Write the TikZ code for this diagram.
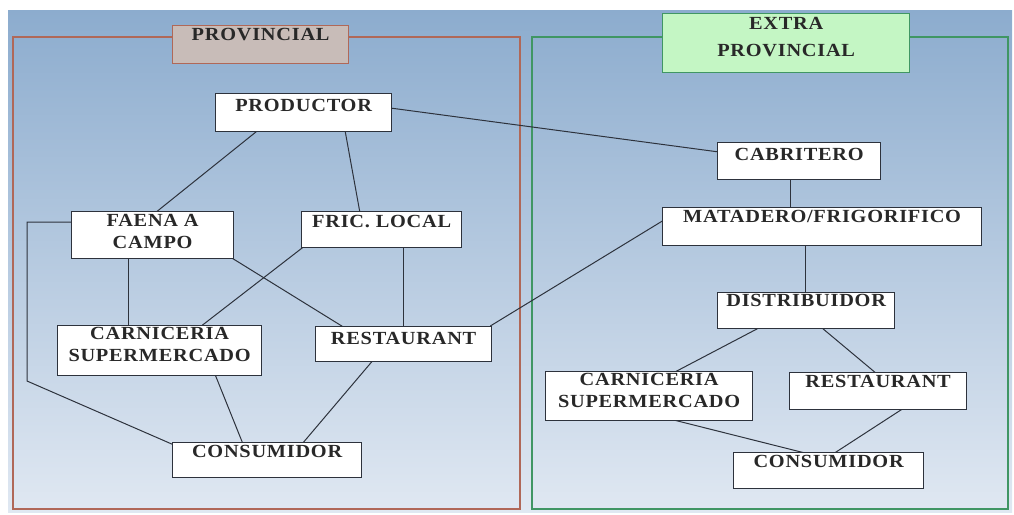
\documentclass[tikz,border=0pt]{standalone}
\usepackage{fontspec}
\setmainfont{Liberation Serif}[LetterSpace=4,FakeStretch=1.1]
\usetikzlibrary{calc}
\definecolor{bgtop}{RGB}{140,172,206}
\definecolor{bgbot}{RGB}{224,232,242}
\definecolor{provc}{RGB}{176,104,88}
\definecolor{provfill}{RGB}{200,188,184}
\definecolor{extc}{RGB}{64,150,100}
\definecolor{extfill}{RGB}{196,246,196}
\definecolor{txt}{RGB}{40,40,40}
\definecolor{edgec}{RGB}{45,50,60}
\pgfdeclarelayer{back}
\pgfdeclarelayer{mid}
\pgfsetlayers{back,mid,main}
\newcommand\bt[4]{\parbox[t][#1][t]{#2}{\vspace*{#3}\centering #4\par}}
\tikzset{
  nb/.style={draw=edgec, line width=1.3pt, fill=white, inner sep=0pt, anchor=north west,
    font=\fontsize{18.5}{21.5}\selectfont\bfseries, text=txt},
  provlab/.style={nb, draw=provc, fill=provfill},
  extlab/.style={nb, draw=extc, fill=extfill},
  link/.style={draw=edgec, line width=1pt}
}
\begin{document}
\begin{tikzpicture}[x=1pt,y=-1pt]
\useasboundingbox (0,0) rectangle (1014,514);
% nodes
\node[nb] (prod)  at (215,93)  {\bt{38pt}{176pt}{6pt}{PRODUCTOR}};
\node[nb] (faena) at (71,211)  {\bt{47pt}{162pt}{3pt}{FAENA A\\CAMPO}};
\node[nb] (fric)  at (301,211) {\bt{36pt}{160pt}{4pt}{FRIC. LOCAL}};
\node[nb] (carnL) at (57,325)  {\bt{50pt}{204pt}{2pt}{CARNICERIA\\SUPERMERCADO}};
\node[nb] (restL) at (315,326) {\bt{35pt}{176pt}{6pt}{RESTAURANT}};
\node[nb] (consL) at (172,442) {\bt{35pt}{189pt}{3pt}{CONSUMIDOR}};
\node[nb] (cabr)  at (717,142) {\bt{37pt}{163pt}{6pt}{CABRITERO}};
\node[nb] (mata)  at (662,207) {\bt{38pt}{319pt}{3pt}{MATADERO/FRIGORIFICO}};
\node[nb] (dist)  at (717,292) {\bt{36pt}{177pt}{1.5pt}{DISTRIBUIDOR}};
\node[nb] (carnR) at (545,371) {\bt{49pt}{207pt}{2pt}{CARNICERIA\\SUPERMERCADO}};
\node[nb] (restR) at (789,372) {\bt{37pt}{177pt}{3pt}{RESTAURANT}};
\node[nb] (consR) at (733,452) {\bt{36pt}{190pt}{3pt}{CONSUMIDOR}};
\node[provlab] (provl) at (172,25) {\bt{38pt}{176pt}{3pt}{PROVINCIAL}};
\node[extlab] (extl) at (662,13) {\bt{59pt}{247pt}{4pt}{EXTRA\\[5pt]PROVINCIAL}};
% background and frames
\begin{pgfonlayer}{back}
\shade[top color=bgtop, bottom color=bgbot] (8,10) rectangle (1012,512);
\draw[provc, line width=1.8pt] (13,37) rectangle (520,509);
\draw[extc, line width=1.6pt] (532,37) rectangle (1008,509);
\end{pgfonlayer}
% connectors
\begin{pgfonlayer}{mid}
\draw[link] ($(prod.south west)+(43,-2)$) -- ($(faena.north west)+(84,2)$);
\draw[link] ($(prod.south west)+(130,-2)$) -- ($(fric.north west)+(59,2)$);
\draw[link] ($(prod.north east)+(-2,15)$) -- ($(cabr.north west)+(2,10)$);
\draw[link] ($(faena.north west)+(2,11)$) -- ++(-46,0) -- ++(0,159) -- ($(consL.north west)+(2,3)$);
\draw[link] ($(faena.south west)+(57,-2)$) -- ($(carnL.north west)+(71,2)$);
\draw[link] ($(faena.south east)+(-2,-1)$) -- ($(restL.north west)+(30,2)$);
\draw[link] ($(fric.south west)+(2,-1)$) -- ($(carnL.north west)+(143,2)$);
\draw[link] ($(fric.south west)+(102,-2)$) -- ($(restL.north west)+(88,2)$);
\draw[link] ($(restL.north east)+(-2,0)$) -- ($(mata.north west)+(2,13)$);
\draw[link] ($(carnL.south west)+(158,-2)$) -- ($(consL.north west)+(71,2)$);
\draw[link] ($(restL.south west)+(58,-2)$) -- ($(consL.north west)+(130,2)$);
\draw[link] ($(cabr.south west)+(73,-2)$) -- ($(mata.north west)+(128,2)$);
\draw[link] ($(mata.south west)+(143,-2)$) -- ($(dist.north west)+(88,2)$);
\draw[link] ($(dist.south west)+(45,-3)$) -- ($(carnR.north west)+(128,2)$);
\draw[link] ($(dist.south west)+(103,-3)$) -- ($(restR.north west)+(88,2)$);
\draw[link] ($(carnR.south west)+(118,-4)$) -- ($(consR.north west)+(72,1)$);
\draw[link] ($(restR.south west)+(116,-3)$) -- ($(consR.north west)+(100,2)$);
\end{pgfonlayer}
\end{tikzpicture}
\end{document}
